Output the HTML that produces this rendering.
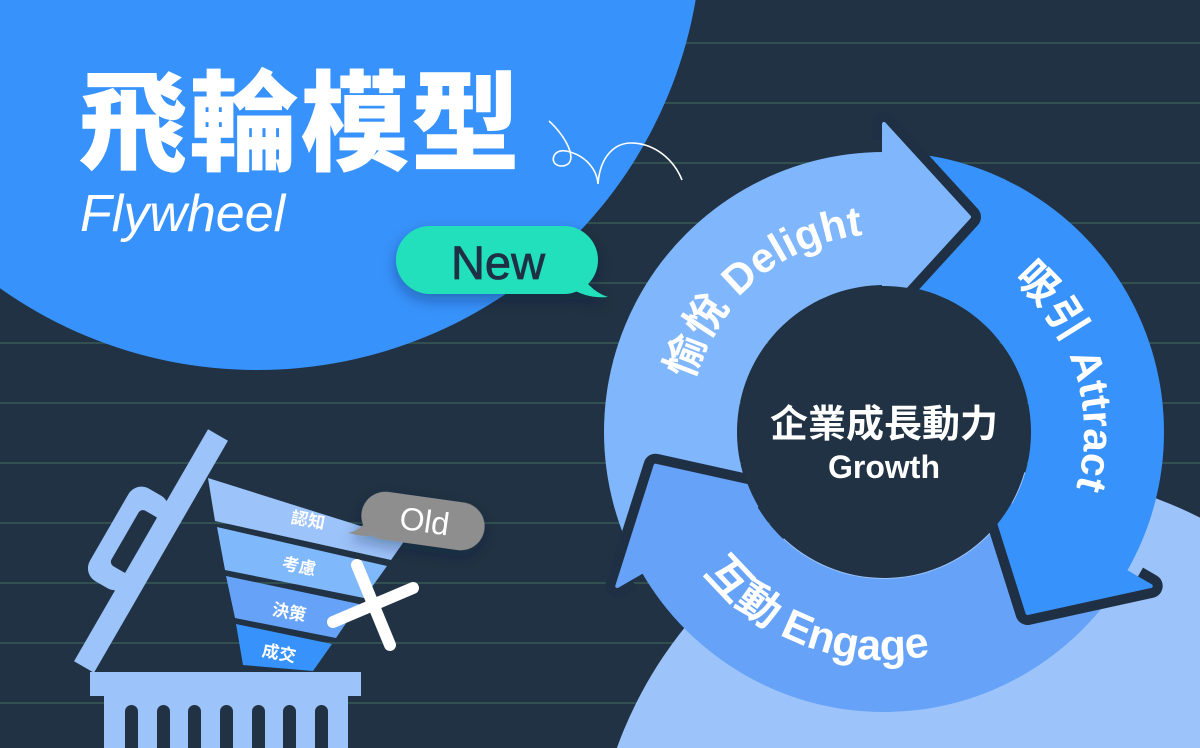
<!DOCTYPE html>
<html><head><meta charset="utf-8"><style>
html,body{margin:0;padding:0;background:#203243;overflow:hidden;width:1200px;height:748px}
svg{display:block}
.t{font-family:"Liberation Sans","Noto Sans CJK TC",sans-serif;font-weight:bold;fill:#fff}
</style></head><body>
<svg width="1200" height="748" viewBox="0 0 1200 748" xmlns="http://www.w3.org/2000/svg">
<defs>
<filter id="sh" x="-30%" y="-30%" width="160%" height="170%"><feDropShadow dx="0" dy="6" stdDeviation="7" flood-color="#0a1a3a" flood-opacity="0.35"/></filter>
<path id="pD" d="M692.7,380.8 A198,198 0 0 1 983,260.5"/>
<path id="pA" d="M1012.6,278.8 A200,200 0 0 1 1037.2,560.6"/>
<path id="pE" d="M704.3,572.4 A228,228 0 0 0 1058.7,578.6"/>
</defs>
<rect width="1200" height="748" fill="#203243"/>
<g stroke="#32504f" stroke-width="2">
<line x1="0" y1="43" x2="1200" y2="43"/><line x1="0" y1="103" x2="1200" y2="103"/><line x1="0" y1="163" x2="1200" y2="163"/><line x1="0" y1="223" x2="1200" y2="223"/><line x1="0" y1="283" x2="1200" y2="283"/><line x1="0" y1="343" x2="1200" y2="343"/><line x1="0" y1="403" x2="1200" y2="403"/><line x1="0" y1="463" x2="1200" y2="463"/><line x1="0" y1="523" x2="1200" y2="523"/><line x1="0" y1="583" x2="1200" y2="583"/><line x1="0" y1="643" x2="1200" y2="643"/><line x1="0" y1="703" x2="1200" y2="703"/>
</g>
<circle cx="257" cy="-75" r="445" fill="#3792fb"/>
<circle cx="1010" cy="890" r="418" fill="#9cc3fa"/>

<!-- title -->
<text x="78" y="162" font-family="'Liberation Sans','Noto Sans CJK TC',sans-serif" font-weight="900" font-size="109" fill="#fff" letter-spacing="2">飛輪模型</text>
<text x="80" y="231" font-family="'Liberation Sans',sans-serif" font-style="italic" font-size="52" fill="#fff">Flywheel</text>
<path d="M549,121 C568,138 580,165 562,166 C548,166 552,148 566,151 C586,155 597,170 598,184 C600,156 615,143 631,143 C655,143 674,160 682,180" fill="none" stroke="#fff" stroke-width="1.6"/>

<!-- New bubble -->
<g filter="url(#sh)">
<rect x="396" y="226" width="202" height="68" rx="34" fill="#22e0bb"/>
<path d="M575,262 Q586,290 608,297 Q588,299 570,288 Z" fill="#22e0bb"/>
</g>
<text x="498" y="279" text-anchor="middle" font-family="'Liberation Sans',sans-serif" font-size="47" fill="#1f3044" stroke="#1f3044" stroke-width="0.8">New</text>

<!-- wheel bodies -->
<path d="M641.5,572 A280,280 0 0 1 884,152 L884,285 A147,147 0 0 0 756.7,505.5 Z" fill="#80b6fc"/>
<path d="M884,152 A280,280 0 0 1 1126.5,572 L1011.3,505.5 A147,147 0 0 0 884,285 Z" fill="#3792fb"/>
<path d="M1126.5,572 A280,280 0 0 1 641.5,572 L756.7,505.5 A147,147 0 0 0 1011.3,505.5 Z" fill="#66a3f8"/>
<!-- heads -->
<g stroke-linejoin="round">
<polyline points="884,290 884,310 969,217 884,124 884,140" fill="none" stroke="#1f3044" stroke-width="24"/>
<polyline points="1006.9,502.5 989.7,493 1027.5,613 1150.7,586 1137,578" fill="none" stroke="#1f3044" stroke-width="24"/>
<polyline points="761,503 778.3,493 655.5,465.7 617.3,586 631,578" fill="none" stroke="#1f3044" stroke-width="24"/>
<polygon points="884,285 884,310 969,217 884,124 884,152" fill="#80b6fc" stroke="#80b6fc" stroke-width="4"/>
<polygon points="1011.3,505.5 989.7,493 1027.5,613 1150.7,586 1126.5,572" fill="#3792fb" stroke="#3792fb" stroke-width="4"/>
<polygon points="756.7,505.5 778.3,493 655.5,465.7 617.3,586 641.5,572" fill="#66a3f8" stroke="#66a3f8" stroke-width="4"/>
</g>
<circle cx="884" cy="432" r="146" fill="#203243"/>
<text class="t" font-size="42"><textPath href="#pD">愉悅 Delight</textPath></text>
<text class="t" font-size="42"><textPath href="#pA">吸引 Attract</textPath></text>
<text class="t" font-size="43"><textPath href="#pE">互動 Engage</textPath></text>
<text class="t" x="884" y="437" text-anchor="middle" font-size="38">企業成長動力</text>
<text class="t" x="884" y="478" text-anchor="middle" font-size="32">Growth</text>

<!-- trash can -->
<g fill="#9cc3fa">
<rect x="90" y="672" width="271" height="24"/>
<rect x="104" y="694" width="244" height="54"/>
</g>
<g fill="#203243">
<rect x="125" y="705" width="13" height="50" rx="6.5"/><rect x="157" y="705" width="13" height="50" rx="6.5"/><rect x="188" y="705" width="13" height="50" rx="6.5"/><rect x="220" y="705" width="13" height="50" rx="6.5"/><rect x="252" y="705" width="13" height="50" rx="6.5"/><rect x="283" y="705" width="13" height="50" rx="6.5"/><rect x="315" y="705" width="13" height="50" rx="6.5"/>
</g>
<g transform="translate(151,551) rotate(30)">
<rect x="-48" y="-53" width="44" height="107" rx="15" fill="#9cc3fa"/>
<rect x="-30" y="-32" width="22" height="64" rx="5" fill="#203243"/>
<rect x="-11.5" y="-134" width="23" height="268" fill="#9cc3fa"/>
</g>

<!-- funnel -->
<polygon points="208,478 405,540 391,560 215,521" fill="#9cc3fa"/>
<polygon points="217,527 387,566 364,598 225,570" fill="#80b8fc"/>
<polygon points="226,576 359,604 336,638 235,618" fill="#66a3f8"/>
<polygon points="236,624 332,644 313,671 243,665" fill="#3792fb"/>
<g font-family="'Liberation Sans','Noto Sans CJK TC',sans-serif" font-weight="bold" font-size="17" fill="#fff" text-anchor="middle">
<text transform="translate(307,526) rotate(11)">認知</text>
<text transform="translate(298,572) rotate(11)">考慮</text>
<text transform="translate(288,618) rotate(11)">決策</text>
<text transform="translate(278,659) rotate(11)">成交</text>
</g>
<!-- Old bubble -->
<g transform="translate(423,521) rotate(8)" filter="url(#sh)">
<rect x="-62" y="-24" width="124" height="48" rx="24" fill="#8e8e8e"/>
<path d="M-50,-6 Q-56,16 -72,22 Q-52,26 -38,17 Z" fill="#8e8e8e"/>
</g>
<text transform="translate(423,532) rotate(8)" text-anchor="middle" font-family="'Liberation Sans',sans-serif" font-size="32" fill="#fff">Old</text>
<!-- X -->
<g stroke="#fff" stroke-width="12" stroke-linecap="round">
<line x1="357" y1="565" x2="390" y2="645"/>
<line x1="333" y1="622" x2="413" y2="588"/>
</g>
</svg>
</body></html>
